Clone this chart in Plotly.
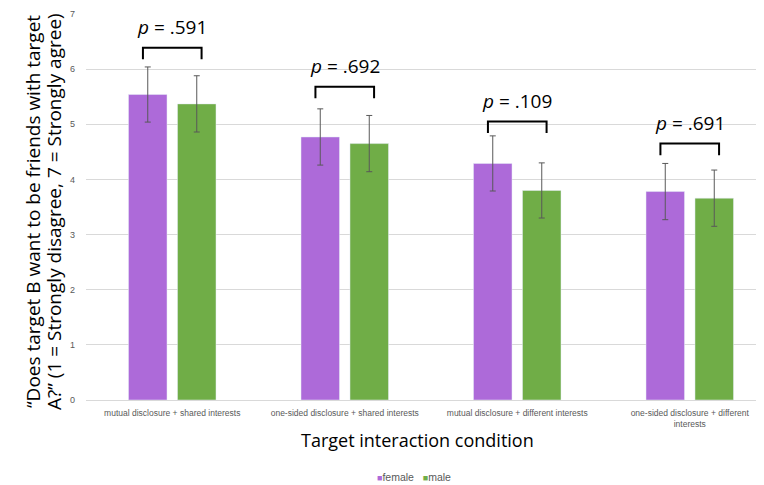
import plotly.graph_objects as go

categories = ["mutual disclosure + shared interests",
              "one-sided disclosure + shared interests",
              "mutual disclosure + different interests",
              "one-sided disclosure + different interests"]
tick_labels = ["mutual disclosure + shared interests",
               "one-sided disclosure + shared interests",
               "mutual disclosure + different interests",
               "one-sided disclosure + different<br>interests"]
series_names = ["female", "male"]
series_colors = ["#ad6ad9", "#70ad47"]
female = [5.54, 4.77, 4.29, 3.78]
male = [5.37, 4.65, 3.80, 3.66]
female_err = [0.50, 0.51, 0.50, 0.51]
male_err = [0.51, 0.51, 0.50, 0.51]
p_values = [".591", ".692", ".109", ".691"]
bracket_top = [6.39, 5.68, 5.05, 4.65]
y_title_lines = ["“Does target B want to be friends with target",
                 "A?” (1 = Strongly disagree, 7 = Strongly agree)"]

# page has an 8px body margin; figure shifted accordingly
OFF = 8
W, H = 764 - OFF, 485 - OFF
L, R, T = 86 - OFF, 0, 14 - OFF
B = H - (400 - OFF)
pw = W - L - R
ph = H - T - B


def px_x(page_x):
    return (page_x - OFF - L) / pw


def px_y(page_y):
    return 1 - (page_y - OFF - T) / ph


fig = go.Figure()
for name, color, vals, errs in zip(series_names, series_colors, [female, male], [female_err, male_err]):
    fig.add_trace(go.Bar(name=name, x=categories, y=vals, marker_color=color,
                         error_y=dict(type="data", array=errs, color="#595959",
                                      thickness=1, width=3)))

shapes = []
annotations = []
for i, (p, top) in enumerate(zip(p_values, bracket_top)):
    x0, x1 = i - 0.17, i + 0.17
    y0 = top - 0.21
    shapes.append(dict(type="path", xref="x", yref="y",
                       path=f"M {x0},{y0} L {x0},{top} L {x1},{top} L {x1},{y0}",
                       line=dict(color="black", width=2)))
    annotations.append(dict(x=i, y=top + 0.38, xref="x", yref="y",
                            text=f"<i>p</i> = {p}", showarrow=False,
                            font=dict(size=19, color="black", family="Open Sans")))

for line_text, page_x in zip(y_title_lines, [33, 54]):
    annotations.append(dict(x=px_x(page_x), y=px_y(212), xref="paper", yref="paper",
                            text=line_text, textangle=-90, showarrow=False,
                            xanchor="center", yanchor="middle",
                            font=dict(size=19, color="black", family="Open Sans")))
annotations.append(dict(x=px_x(417), y=px_y(440), xref="paper", yref="paper",
                        text="Target interaction condition", showarrow=False,
                        xanchor="center", yanchor="middle",
                        font=dict(size=18, color="black", family="Open Sans")))

# compact legend drawn as text
legend_text = "   ".join(
    f"<span style='color:{c}; font-size:9px'>■</span>{n}" for n, c in zip(series_names, series_colors))
annotations.append(dict(x=px_x(414), y=px_y(477), xref="paper", yref="paper",
                        text=legend_text, showarrow=False, xanchor="center", yanchor="middle",
                        font=dict(size=10.5, color="#595959", family="Liberation Sans")))

fig.update_layout(
    width=W, height=H,
    margin=dict(l=L, r=R, t=T, b=B),
    paper_bgcolor="white", plot_bgcolor="white",
    barmode="group", bargap=0.432, bargroupgap=0.214,
    showlegend=False,
    shapes=shapes,
    annotations=annotations,
    font=dict(family="Liberation Sans"),
)
fig.update_xaxes(range=[-0.5, -0.5 + pw / 172.5], tickvals=categories, ticktext=tick_labels,
                 tickfont=dict(size=8.5, color="#595959", family="Liberation Sans"),
                 showline=False, showgrid=False, ticks="", tickangle=0, ticklabelstandoff=6)
fig.update_yaxes(range=[0, 7], dtick=1, showgrid=True, gridcolor="#d9d9d9", gridwidth=1,
                 zeroline=True, zerolinecolor="#d9d9d9", zerolinewidth=1,
                 tickfont=dict(size=9, color="#595959", family="Liberation Sans"),
                 ticks="", ticklabelstandoff=10, showline=False)

fig.write_html("out.html")
